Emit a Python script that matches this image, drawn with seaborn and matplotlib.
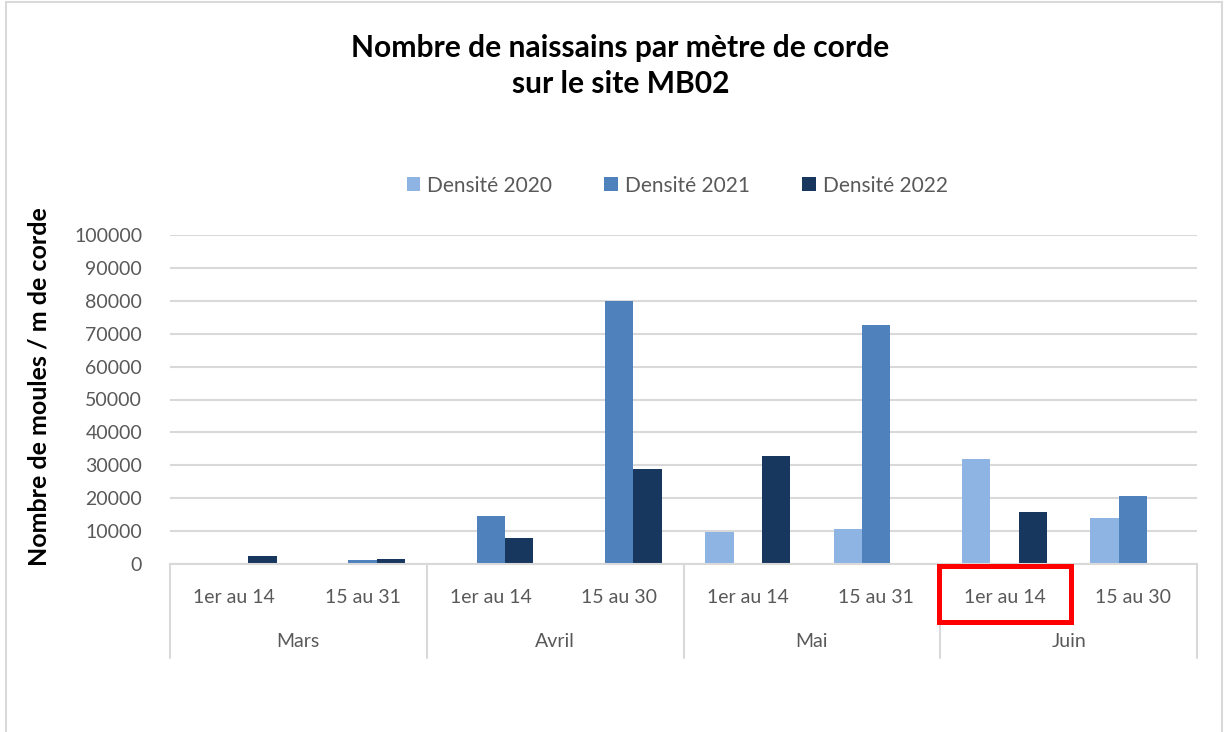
import matplotlib
matplotlib.use("Agg")
import matplotlib.pyplot as plt
import matplotlib.transforms as mtransforms
from matplotlib.patches import Rectangle
import seaborn as sns
import pandas as pd

# données
periodes = ["1er au 14", "15 au 31", "1er au 14", "15 au 30",
            "1er au 14", "15 au 31", "1er au 14", "15 au 30"]
mois = ["Mars", "Avril", "Mai", "Juin"]
densite_2020 = [0, 0, 0, 0, 9600, 10700, 31800, 14100]
densite_2021 = [0, 1300, 14500, 80000, 0, 72500, 0, 20800]
densite_2022 = [2500, 1650, 8000, 28800, 32900, 0, 15800, 0]
series = ["Densité 2020", "Densité 2021", "Densité 2022"]
couleurs = ["#8EB4E3", "#4F81BD", "#17375E"]

rows = []
for i in range(len(periodes)):
    for nom, vals in zip(series, [densite_2020, densite_2021, densite_2022]):
        rows.append({"pos": i, "serie": nom, "valeur": vals[i]})
df = pd.DataFrame(rows)

sns.set_style("white")
plt.rcParams["font.family"] = ["Lato", "DejaVu Sans"]

fig = plt.figure(figsize=(12.31, 7.32), dpi=100)
ax = fig.add_axes([170 / 1231, 1 - 564 / 732, 1027 / 1231, 329 / 732])

sns.barplot(data=df, x="pos", y="valeur", hue="serie", hue_order=series,
            palette=couleurs, saturation=1, width=0.66, linewidth=0, ax=ax)

ax.set_ylim(0, 100000)
ax.set_xlim(-0.5, 7.5)
ax.set_yticks(range(0, 100001, 10000))
ax.tick_params(axis="y", labelsize=14, labelcolor="#595959", length=0, pad=20)
ax.yaxis.grid(True, color="#D9D9D9", linewidth=1.5)
ax.set_axisbelow(True)
for s in ["top", "right", "left"]:
    ax.spines[s].set_visible(False)
ax.spines["bottom"].set_color("#D9D9D9")
ax.spines["bottom"].set_linewidth(1.5)

ax.set_xticks(range(len(periodes)))
ax.set_xticklabels(periodes)
ax.tick_params(axis="x", labelsize=14, labelcolor="#595959", length=0, pad=18)
ax.set_xlabel("")
ax.set_ylabel("Nombre de moules / m de corde", fontsize=18, fontweight="bold",
              color="black")
ax.yaxis.set_label_coords(-0.116, 0.538)

# étiquettes des mois et séparateurs
trans = mtransforms.blended_transform_factory(ax.transData, ax.transAxes)
for k, m in enumerate(mois):
    ax.text(2 * k + 0.5, -0.235, m, transform=trans, ha="center", va="center",
            fontsize=14, color="#595959")
for xb in [-0.5, 1.5, 3.5, 5.5, 7.5]:
    ax.plot([xb, xb], [0, -0.285], transform=trans, color="#D9D9D9",
            linewidth=1.5, clip_on=False)

# cadre rouge autour de Juin 1er au 14
ax.add_patch(Rectangle((5.49, -0.176), 1.03, 0.17, transform=trans, fill=False,
                       edgecolor="#FF0000", linewidth=3.6, clip_on=False,
                       zorder=10))

leg = ax.legend(loc="center", bbox_to_anchor=(0.494, 1.15), ncol=3, frameon=False,
                fontsize=15, handlelength=0.65, handleheight=0.65,
                handletextpad=0.35, columnspacing=2.5)
for t in leg.get_texts():
    t.set_color("#595959")

fig.text(0.504, 0.91, "Nombre de naissains par mètre de corde\nsur le site MB02",
         ha="center", va="center", fontsize=21.6, fontweight="bold",
         color="black", linespacing=1.33)

fig.patches.append(Rectangle((6 / 1231, -0.02), 1216 / 1231, 1.017,
                             transform=fig.transFigure, fill=False,
                             edgecolor="#D9D9D9", linewidth=1.5))

fig.savefig("out.png", dpi=100)
